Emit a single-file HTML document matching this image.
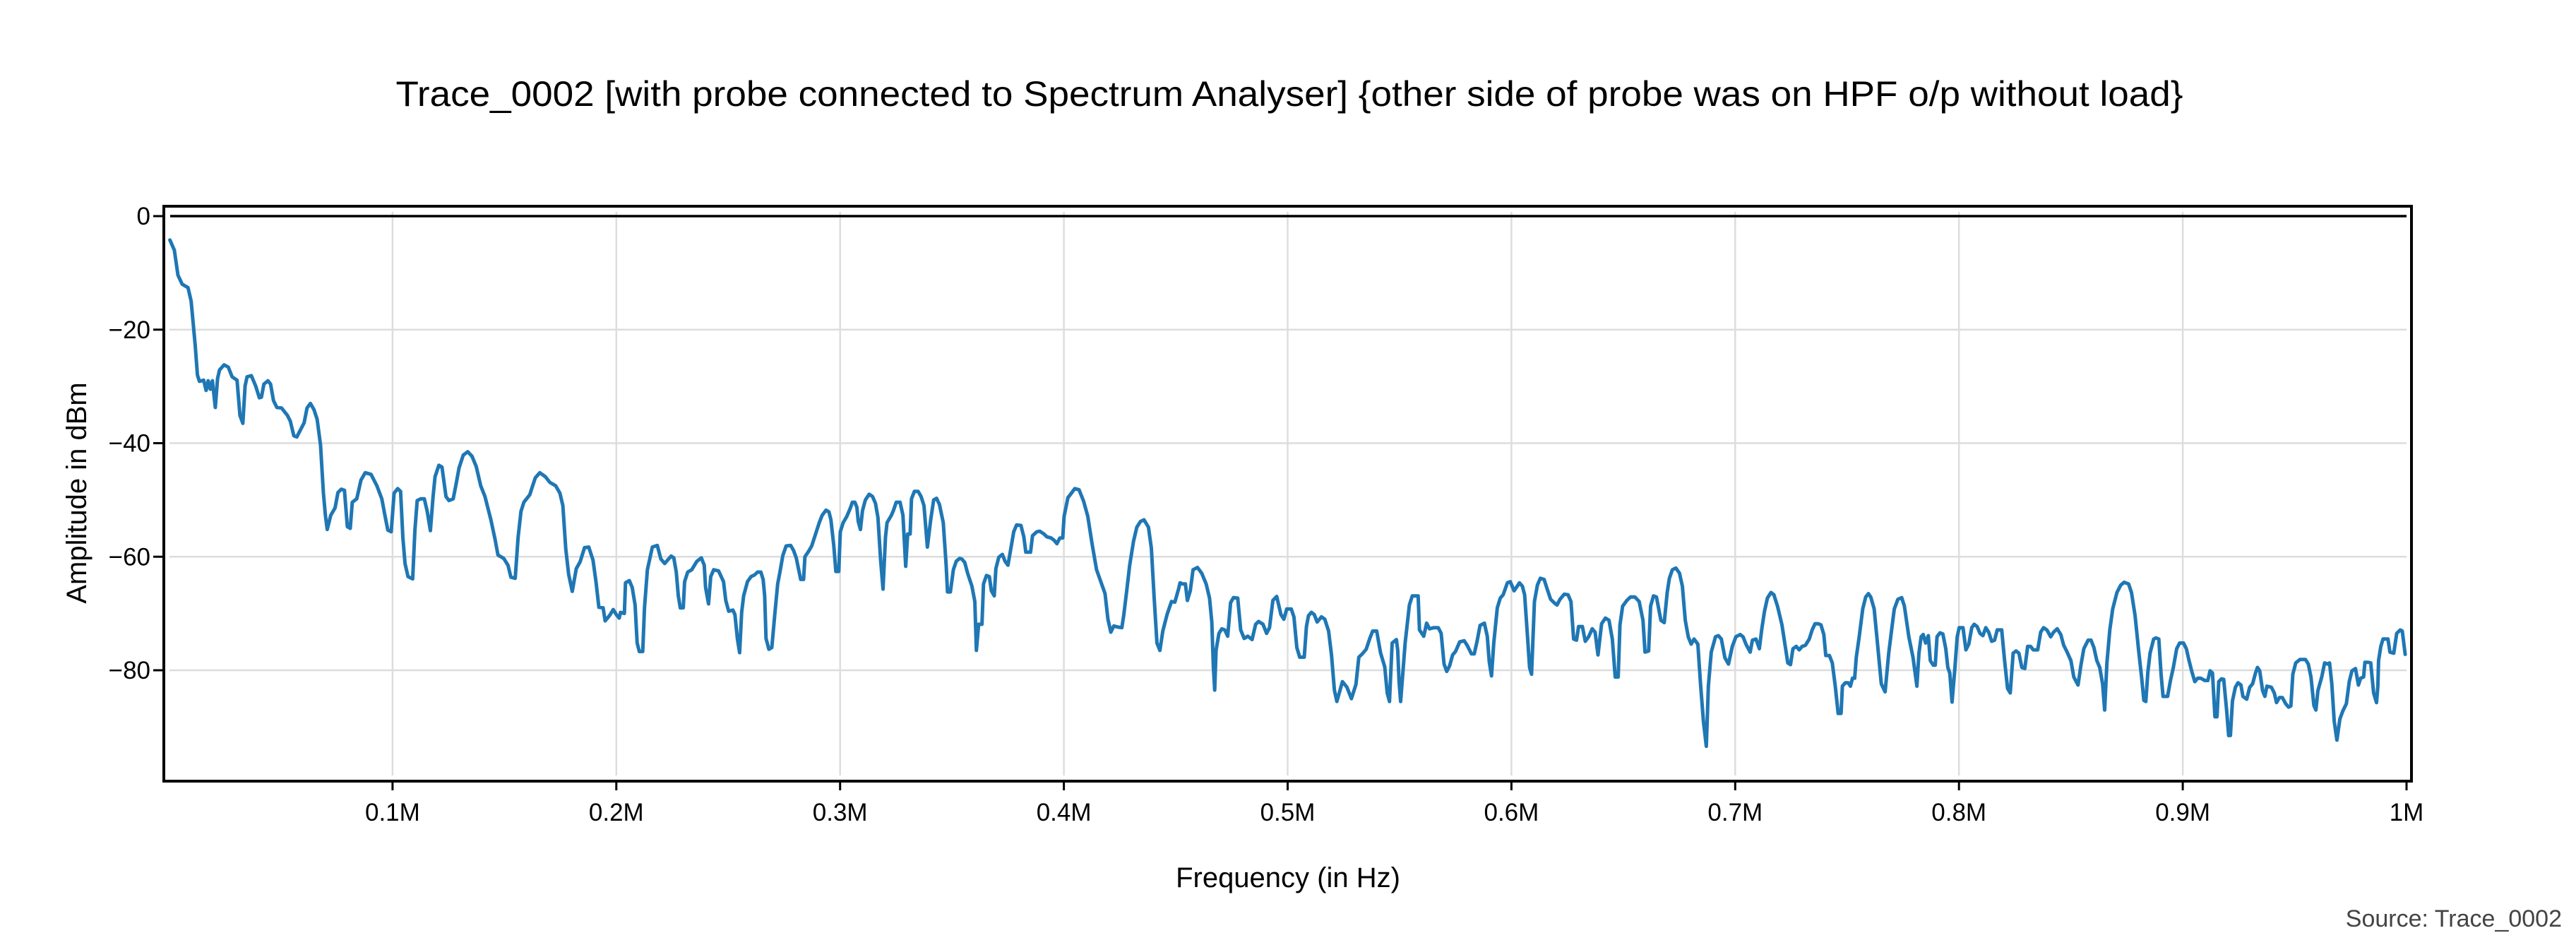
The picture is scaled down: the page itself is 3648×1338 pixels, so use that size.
<!DOCTYPE html>
<html><head><meta charset="utf-8"><style>html,body{margin:0;padding:0;background:#fff}svg{display:block}text{font-family:"Liberation Sans",sans-serif}</style></head>
<body>
<svg id="chart" width="3648" height="1338" viewBox="0 0 3648 1338" xmlns="http://www.w3.org/2000/svg">
<rect x="0" y="0" width="3648" height="1338" fill="#fff"/>
<text x="1826" y="150" font-size="50" text-anchor="middle" textLength="2531" lengthAdjust="spacingAndGlyphs" fill="#000">Trace_0002 [with probe connected to Spectrum Analyser] {other side of probe was on HPF o/p without load}</text>
<g id="grid"></g>
<g id="axes"></g>
<g id="series"></g>
<rect x="232" y="292" width="3183" height="814" fill="none" stroke="#000" stroke-width="4"/>
<text x="1824" y="1256" font-size="40" text-anchor="middle" fill="#000">Frequency (in Hz)</text>
<text x="0" y="0" font-size="40" text-anchor="middle" fill="#000" transform="translate(122,698) rotate(-90)">Amplitude in dBm</text>
<text x="3628" y="1312" font-size="34" text-anchor="end" fill="#444">Source: Trace_0002</text>
</svg>
<script>
const xTicks = [0.1,0.2,0.3,0.4,0.5,0.6,0.7,0.8,0.9,1.0];
const xTickLabels = ["0.1M","0.2M","0.3M","0.4M","0.5M","0.6M","0.7M","0.8M","0.9M","1M"];
const yTicks = [0,-20,-40,-60,-80];
const yTickLabels = ["0","\u221220","\u221240","\u221260","\u221280"];
const refLineFreq = [0, 1.0];
const refLineAmp = [0, 0];
const tracePoints = [
[0.0005,-4.2],[0.0025,-6],[0.0041,-10.4],[0.0060,-12],[0.0086,-12.6],[0.0100,-15],[0.0118,-22.7],[0.0128,-28],[0.0137,-29.1],[0.0156,-28.9],[0.0167,-30.7],[0.0176,-29],[0.0186,-30.5],[0.0195,-29],[0.0208,-33.7],[0.0218,-28.6],[0.0227,-27.1],[0.0247,-26.2],[0.0266,-26.6],[0.0283,-28.3],[0.0305,-28.9],[0.0318,-35.1],[0.0331,-36.5],[0.0341,-29.9],[0.0350,-28.3],[0.0369,-28.1],[0.0388,-29.9],[0.0405,-32],[0.0414,-31.9],[0.0425,-29.6],[0.0443,-29],[0.0455,-29.6],[0.0468,-32.5],[0.0483,-33.7],[0.0504,-33.8],[0.0530,-35.1],[0.0543,-36.1],[0.0559,-38.7],[0.0572,-38.9],[0.0588,-37.7],[0.0605,-36.4],[0.0618,-33.8],[0.0633,-33],[0.0649,-34.1],[0.0663,-35.8],[0.0678,-40.3],[0.0691,-48.8],[0.0700,-52.7],[0.0708,-55.2],[0.0724,-52.7],[0.0743,-51.4],[0.0756,-48.7],[0.0771,-48.1],[0.0785,-48.3],[0.0798,-54.7],[0.0811,-55],[0.0820,-50.4],[0.0840,-49.8],[0.0859,-46.5],[0.0878,-45.2],[0.0904,-45.5],[0.0930,-47.5],[0.0952,-49.8],[0.0966,-52.7],[0.0979,-55.3],[0.0994,-55.6],[0.1007,-48.8],[0.1023,-48],[0.1036,-48.5],[0.1046,-56.6],[0.1056,-61.2],[0.1069,-63.5],[0.1090,-63.9],[0.1100,-55.3],[0.1110,-50.1],[0.1126,-49.8],[0.1142,-49.8],[0.1155,-52],[0.1169,-55.4],[0.1181,-49.4],[0.1190,-45.9],[0.1207,-43.9],[0.1221,-44.2],[0.1239,-49.4],[0.1252,-50.1],[0.1271,-49.8],[0.1284,-47.2],[0.1297,-44.4],[0.1316,-42.1],[0.1336,-41.5],[0.1355,-42.3],[0.1374,-44.1],[0.1394,-47.5],[0.1413,-49.4],[0.1439,-53.4],[0.1458,-56.9],[0.1471,-59.7],[0.1497,-60.3],[0.1516,-61.5],[0.1529,-63.6],[0.1548,-63.8],[0.1561,-56.6],[0.1574,-52],[0.1587,-50.4],[0.1613,-49.1],[0.1626,-47.5],[0.1638,-46.1],[0.1658,-45.2],[0.1683,-45.9],[0.1703,-46.9],[0.1729,-47.5],[0.1748,-48.8],[0.1761,-51],[0.1774,-58.6],[0.1787,-63.1],[0.1803,-66.1],[0.1821,-62.1],[0.1838,-60.9],[0.1858,-58.4],[0.1877,-58.3],[0.1896,-60.6],[0.1909,-64.4],[0.1922,-68.9],[0.1941,-69],[0.1950,-71.3],[0.1971,-70.3],[0.1986,-69.3],
[0.2000,-70.2],[0.2013,-70.8],[0.2019,-69.8],[0.2036,-70],[0.2041,-64.6],[0.2058,-64.2],[0.2071,-65.4],[0.2084,-68.5],[0.2093,-75.2],[0.2103,-76.7],[0.2118,-76.7],[0.2126,-69],[0.2139,-62.3],[0.2161,-58.3],[0.2183,-58],[0.2199,-60.4],[0.2216,-61.2],[0.2229,-60.6],[0.2245,-59.9],[0.2257,-60.2],[0.2268,-62.7],[0.2277,-66.9],[0.2286,-69],[0.2299,-69],[0.2305,-64.4],[0.2319,-62.7],[0.2337,-62.3],[0.2360,-60.8],[0.2380,-60.2],[0.2393,-61.5],[0.2399,-65.4],[0.2412,-68.3],[0.2422,-63.5],[0.2435,-62.3],[0.2457,-62.5],[0.2479,-64.4],[0.2489,-67.7],[0.2502,-69.6],[0.2521,-69.4],[0.2530,-70.2],[0.2541,-74.4],[0.2551,-76.9],[0.2560,-69.8],[0.2569,-66.9],[0.2586,-64.4],[0.2602,-63.5],[0.2618,-63.2],[0.2631,-62.7],[0.2646,-62.7],[0.2656,-64],[0.2663,-66.9],[0.2669,-74.4],[0.2682,-76.3],[0.2695,-76],[0.2708,-70.2],[0.2721,-64.8],[0.2731,-62.7],[0.2744,-59.8],[0.2759,-58.1],[0.2779,-58],[0.2792,-58.9],[0.2804,-60.2],[0.2824,-64],[0.2837,-64],[0.2843,-60],[0.2860,-59],[0.2873,-58.1],[0.2888,-56.3],[0.2907,-54],[0.2920,-52.7],[0.2937,-51.8],[0.2950,-52.1],[0.2959,-53.5],[0.2972,-58.1],[0.2981,-62.6],[0.2994,-62.6],[0.3001,-55.6],[0.3014,-54],[0.3030,-52.9],[0.3045,-51.5],[0.3055,-50.4],[0.3066,-50.4],[0.3075,-51.3],[0.3081,-53.8],[0.3091,-55.2],[0.3100,-51.9],[0.3113,-50],[0.3130,-49],[0.3145,-49.4],[0.3158,-50.6],[0.3169,-53.1],[0.3181,-60.6],[0.3192,-65.7],[0.3203,-56.5],[0.3210,-54],[0.3229,-52.7],[0.3238,-51.9],[0.3251,-50.4],[0.3268,-50.4],[0.3281,-52.7],[0.3293,-61.7],[0.3302,-56],[0.3313,-56],[0.3319,-49.8],[0.3332,-48.5],[0.3349,-48.5],[0.3362,-49.4],[0.3375,-51],[0.3390,-58.3],[0.3405,-53.5],[0.3418,-50],[0.3431,-49.7],[0.3444,-50.8],[0.3461,-54],[0.3474,-61.5],[0.3480,-66.2],[0.3493,-66.2],[0.3506,-62.3],[0.3519,-60.8],[0.3534,-60.3],[0.3544,-60.4],[0.3557,-61],[0.3570,-62.9],[0.3589,-65.2],[0.3602,-67.9],[0.3609,-76.5],[0.3619,-71.9],[0.3634,-71.9],[0.3641,-64.8],[0.3654,-63.3],[0.3667,-63.5],[0.3676,-66],[0.3689,-66.9],[0.3696,-62.1],[0.3709,-60.1],[0.3725,-59.6],[0.3737,-60.8],[0.3750,-61.5],[0.3761,-59],[0.3776,-55.6],[0.3789,-54.4],[0.3808,-54.5],[0.3821,-56.5],[0.3830,-59.2],[0.3851,-59.2],[0.3860,-56.3],[0.3879,-55.6],[0.3892,-55.5],[0.3911,-56],[0.3924,-56.5],[0.3943,-56.7],[0.3956,-57.1],[0.3969,-57.7],[0.3982,-56.7],[0.3995,-56.7],[0.4001,-52.9],[0.4018,-49.6],
[0.4030,-49],[0.4049,-48],[0.4068,-48.2],[0.4088,-50.2],[0.4107,-52.9],[0.4126,-57.7],[0.4146,-62.3],[0.4165,-64.4],[0.4184,-66.5],[0.4197,-71],[0.4210,-73.3],[0.4223,-72.2],[0.4242,-72.4],[0.4259,-72.5],[0.4268,-70.2],[0.4281,-66],[0.4294,-61.5],[0.4311,-57.3],[0.4326,-54.8],[0.4342,-53.8],[0.4358,-53.5],[0.4378,-54.8],[0.4391,-58.5],[0.4403,-66.9],[0.4416,-75.2],[0.4429,-76.5],[0.4442,-73.1],[0.4461,-70.2],[0.4481,-67.9],[0.4496,-68],[0.4513,-65.6],[0.4519,-64.6],[0.4532,-64.8],[0.4543,-64.8],[0.4552,-67.7],[0.4565,-66],[0.4577,-62.3],[0.4597,-61.9],[0.4616,-62.9],[0.4636,-64.8],[0.4651,-67.3],[0.4661,-71.5],[0.4668,-79.4],[0.4674,-83.5],[0.4680,-76.5],[0.4693,-73.5],[0.4706,-72.7],[0.4719,-72.9],[0.4732,-74],[0.4745,-68.1],[0.4758,-67.2],[0.4777,-67.3],[0.4790,-72.9],[0.4806,-74.4],[0.4822,-74],[0.4841,-74.6],[0.4857,-71.9],[0.4870,-71.4],[0.4890,-71.9],[0.4906,-73.5],[0.4919,-72.5],[0.4934,-67.7],[0.4951,-67],[0.4970,-70.2],[0.4983,-71],[0.4996,-69.2],[0.5016,-69.2],[0.5028,-70.6],[0.5041,-76],[0.5054,-77.7],[0.5074,-77.7],[0.5084,-72.3],[0.5093,-70.4],[0.5106,-69.8],[0.5119,-70.2],[0.5132,-71.5],[0.5151,-70.6],[0.5166,-71],[0.5183,-73.1],[0.5196,-77.3],[0.5209,-83.5],[0.5220,-85.5],[0.5245,-82],[0.5265,-83],[0.5285,-85],[0.5305,-82.5],[0.5318,-77.7],[0.5334,-77.1],[0.5351,-76.3],[0.5367,-74.4],[0.5380,-73.1],[0.5398,-73.1],[0.5415,-76.9],[0.5434,-79.4],[0.5445,-84],[0.5455,-85.5],[0.5467,-75.2],[0.5486,-74.6],[0.5492,-76.5],[0.5498,-82],[0.5505,-85.5],[0.5525,-75.2],[0.5544,-68.5],[0.5557,-66.9],[0.5583,-66.9],[0.5589,-72.9],[0.5608,-74],[0.5621,-71.7],[0.5634,-72.7],[0.5653,-72.5],[0.5673,-72.5],[0.5686,-73.5],[0.5699,-78.9],[0.5711,-80.2],[0.5724,-79.2],[0.5737,-77.3],[0.5750,-76.7],[0.5769,-75],[0.5789,-74.8],[0.5802,-75.6],[0.5821,-77.1],[0.5834,-77.1],[0.5847,-74.8],[0.5860,-72.1],[0.5879,-71.7],[0.5892,-74],[0.5901,-78.5],[0.5911,-81],[0.5921,-75.2],[0.5937,-69],[0.5950,-67.3],[0.5963,-66.7],[0.5982,-64.6],[0.5995,-64.4],[0.6012,-66],[0.6036,-64.6],
[0.6049,-65.2],[0.6059,-66.7],[0.6072,-74.1],[0.6081,-79.5],[0.6090,-80.7],[0.6103,-67.9],[0.6116,-65],[0.6129,-63.8],[0.6146,-64],[0.6159,-65.6],[0.6175,-67.5],[0.6191,-68.1],[0.6204,-68.5],[0.6217,-67.5],[0.6236,-66.6],[0.6253,-66.7],[0.6266,-67.9],[0.6278,-74.5],[0.6291,-74.7],[0.6300,-72.3],[0.6317,-72.3],[0.6330,-74.9],[0.6345,-74.1],[0.6361,-72.7],[0.6374,-73.3],[0.6387,-77.3],[0.6403,-71.8],[0.6420,-70.8],[0.6436,-71.2],[0.6451,-74.5],[0.6464,-81.2],[0.6477,-81.2],[0.6485,-72],[0.6497,-68.7],[0.6516,-67.7],[0.6532,-67.1],[0.6552,-67.1],[0.6571,-67.9],[0.6588,-71.2],[0.6597,-76.8],[0.6613,-76.6],[0.6622,-68.7],[0.6635,-66.9],[0.6648,-67.1],[0.6668,-71.2],[0.6683,-71.6],[0.6696,-66.3],[0.6706,-63.8],[0.6719,-62.3],[0.6735,-62],[0.6751,-62.9],[0.6764,-65.2],[0.6777,-71.2],[0.6790,-74.1],[0.6803,-75.4],[0.6816,-74.5],[0.6833,-75.4],[0.6845,-82.4],[0.6858,-89],[0.6871,-93.4],[0.6880,-82.8],[0.6893,-76.8],[0.6912,-74.1],[0.6925,-73.9],[0.6938,-74.5],[0.6954,-77.8],[0.6970,-78.9],[0.6987,-75.8],[0.7003,-74.1],[0.7022,-73.7],[0.7035,-74.1],[0.7048,-75.4],[0.7067,-76.8],[0.7077,-74.7],[0.7093,-74.5],[0.7108,-76.2],[0.7119,-72.7],[0.7131,-69.6],[0.7144,-67.3],[0.7160,-66.3],[0.7173,-66.7],[0.7189,-68.7],[0.7209,-72],[0.7222,-75.4],[0.7235,-78.7],[0.7247,-79],[0.7258,-76.2],[0.7273,-75.8],[0.7286,-76.4],[0.7299,-75.8],[0.7314,-75.6],[0.7331,-74.5],[0.7344,-72.9],[0.7357,-71.8],[0.7370,-71.8],[0.7383,-72],[0.7396,-73.7],[0.7405,-77.4],[0.7421,-77.4],[0.7434,-78.7],[0.7447,-82.8],[0.7460,-87.6],[0.7473,-87.6],[0.7479,-82.8],[0.7492,-82.2],[0.7505,-82.2],[0.7515,-82.8],[0.7524,-81.4],[0.7534,-81.4],[0.7541,-77.8],[0.7554,-74.1],[0.7570,-69.2],[0.7583,-67.1],[0.7595,-66.5],[0.7606,-67.1],[0.7621,-69.2],[0.7634,-74.5],[0.7653,-82.4],[0.7670,-83.8],[0.7686,-77],[0.7699,-72.9],[0.7711,-69.2],[0.7727,-67.5],[0.7744,-67.2],[0.7756,-68.7],[0.7776,-74.1],[0.7795,-77.8],[0.7812,-82.8],[0.7821,-77],[0.7831,-74.1],[0.7840,-73.7],[0.7851,-75.2],[0.7863,-73.9],[0.7872,-78.3],[0.7885,-79.1],[0.7894,-79.1],[0.7902,-74.1],[0.7915,-73.4],[0.7928,-73.6],[0.7941,-76.2],[0.7950,-79.5],[0.7959,-80.5],[0.7969,-85.6],[0.7982,-79.5],[0.7992,-74.1],[0.8001,-72.5],[0.8018,-72.5],[0.8031,-76.4],[0.8044,-75.4],[0.8057,-72.5],
[0.8068,-71.9],[0.8081,-72.3],[0.8094,-73.5],[0.8107,-73.9],[0.8120,-72.5],[0.8133,-73.3],[0.8146,-74.9],[0.8159,-74.7],[0.8171,-72.9],[0.8191,-72.9],[0.8204,-78.3],[0.8217,-83.2],[0.8229,-84],[0.8242,-77],[0.8255,-76.6],[0.8268,-77],[0.8281,-79.5],[0.8294,-79.7],[0.8307,-75.8],[0.8320,-75.8],[0.8332,-76.4],[0.8352,-76.4],[0.8365,-73.3],[0.8378,-72.5],[0.8393,-72.9],[0.8410,-74.1],[0.8423,-73.3],[0.8439,-72.7],[0.8455,-73.7],[0.8468,-75.6],[0.8481,-76.6],[0.8500,-78.3],[0.8513,-81.2],[0.8532,-82.6],[0.8545,-79.1],[0.8558,-76.2],[0.8577,-74.7],[0.8590,-74.7],[0.8603,-76],[0.8616,-78.3],[0.8629,-79.5],[0.8642,-82.4],[0.8651,-87],[0.8661,-78.7],[0.8674,-72.9],[0.8687,-69.2],[0.8706,-66.3],[0.8723,-65],[0.8738,-64.5],[0.8758,-64.8],[0.8771,-66.3],[0.8787,-70.4],[0.8803,-76.6],[0.8816,-81.2],[0.8826,-85.3],[0.8835,-85.5],[0.8844,-80.3],[0.8854,-77],[0.8870,-74.5],[0.8880,-74.3],[0.8893,-74.5],[0.8903,-80.7],[0.8912,-84.6],[0.8932,-84.6],[0.8945,-81.8],[0.8958,-79.5],[0.8973,-76.2],[0.8986,-75.2],[0.9003,-75.2],[0.9016,-76.2],[0.9028,-78.3],[0.9041,-80.3],[0.9054,-82],[0.9067,-81.4],[0.9080,-81.4],[0.9099,-81.8],[0.9112,-81.8],[0.9122,-80.1],[0.9133,-80.5],[0.9144,-88.2],[0.9153,-88.2],[0.9161,-82],[0.9174,-81.5],[0.9183,-81.6],[0.9196,-87],[0.9205,-91.5],[0.9213,-91.5],[0.9222,-85.4],[0.9235,-83],[0.9247,-82.2],[0.9260,-82.6],[0.9269,-84.6],[0.9286,-85.1],[0.9299,-83],[0.9312,-82.4],[0.9325,-80.5],[0.9334,-79.5],[0.9344,-80.1],[0.9357,-83.6],[0.9367,-84.6],[0.9376,-82.8],[0.9396,-83],[0.9409,-84],[0.9419,-85.7],[0.9432,-84.8],[0.9445,-84.8],[0.9460,-85.9],[0.9473,-86.5],[0.9483,-86.3],[0.9492,-80.7],[0.9505,-78.7],[0.9524,-78.1],[0.9548,-78.1],[0.9561,-78.9],[0.9573,-81.2],[0.9586,-86.2],[0.9595,-87],[0.9604,-83.6],[0.9621,-81.2],[0.9634,-78.7],[0.9647,-78.9],[0.9656,-78.7],[0.9666,-82.4],[0.9677,-89],[0.9689,-92.3],[0.9702,-88.6],[0.9715,-87.2],[0.9731,-85.9],[0.9744,-82],[0.9756,-80.1],[0.9772,-79.7],[0.9785,-82.6],[0.9795,-81.4],[0.9808,-81.2],[0.9814,-78.6],[0.9827,-78.6],[0.9840,-78.7],[0.9853,-84],[0.9866,-85.7],[0.9872,-82.8],[0.9875,-78.3],[0.9885,-75.8],[0.9895,-74.5],[0.9917,-74.5],[0.9926,-76.8],[0.9943,-77],[0.9956,-73.5],[0.9972,-72.9],[0.9981,-73.1],[0.9994,-77.2]
];
const NS = "http://www.w3.org/2000/svg";
function xScale(f){ return 239 + f * 3169; }
function yScale(v){ return 306 - v * 8.0375; }
function mk(tag, attrs, parent){ const e = document.createElementNS(NS, tag); for (const k in attrs) e.setAttribute(k, attrs[k]); parent.appendChild(e); return e; }
const grid = document.getElementById('grid');
const axes = document.getElementById('axes');
const series = document.getElementById('series');
xTicks.forEach((t, i) => {
  const x = xScale(t);
  if (t < 1) {
    const g = mk('line', {x1:x, x2:x, y1:300, y2:1098, stroke:'#dddddd', 'stroke-width':2.5}, grid);
    
    
  }
  const tk = mk('line', {x1:x, x2:x, y1:1106, y2:1119, stroke:'#000', 'stroke-width':3}, axes);
  
  
  const lb = mk('text', {x:x, y:1162, 'font-size':35, 'text-anchor':'middle', fill:'#000'}, axes);
  lb.textContent = xTickLabels[i];
  
  
});
yTicks.forEach((t, i) => {
  const y = yScale(t);
  if (t !== 0) {
    const g = mk('line', {x1:240, x2:3408, y1:y, y2:y, stroke:'#dddddd', 'stroke-width':2.5}, grid);
    
    
  }
  const tk = mk('line', {x1:217, x2:232, y1:y, y2:y, stroke:'#000', 'stroke-width':3}, axes);
  
  
  const lb = mk('text', {x:213, y:y + 12, 'font-size':35, 'text-anchor':'end', fill:'#000'}, axes);
  lb.textContent = yTickLabels[i];
  
  
});
const ref = mk('line', {x1:xScale(refLineFreq[0]) + 2, x2:xScale(refLineFreq[1]), y1:yScale(refLineAmp[0]), y2:yScale(refLineAmp[1]), stroke:'#000', 'stroke-width':3.5}, series);


const d = tracePoints.map((p, i) => (i ? 'L' : 'M') + xScale(p[0]).toFixed(1) + ',' + yScale(p[1]).toFixed(1)).join('');
const path = mk('path', {d:d, fill:'none', stroke:'#1f77b4', 'stroke-width':5, 'stroke-linejoin':'round', 'stroke-linecap':'round'}, series);


</script>
</body></html>
